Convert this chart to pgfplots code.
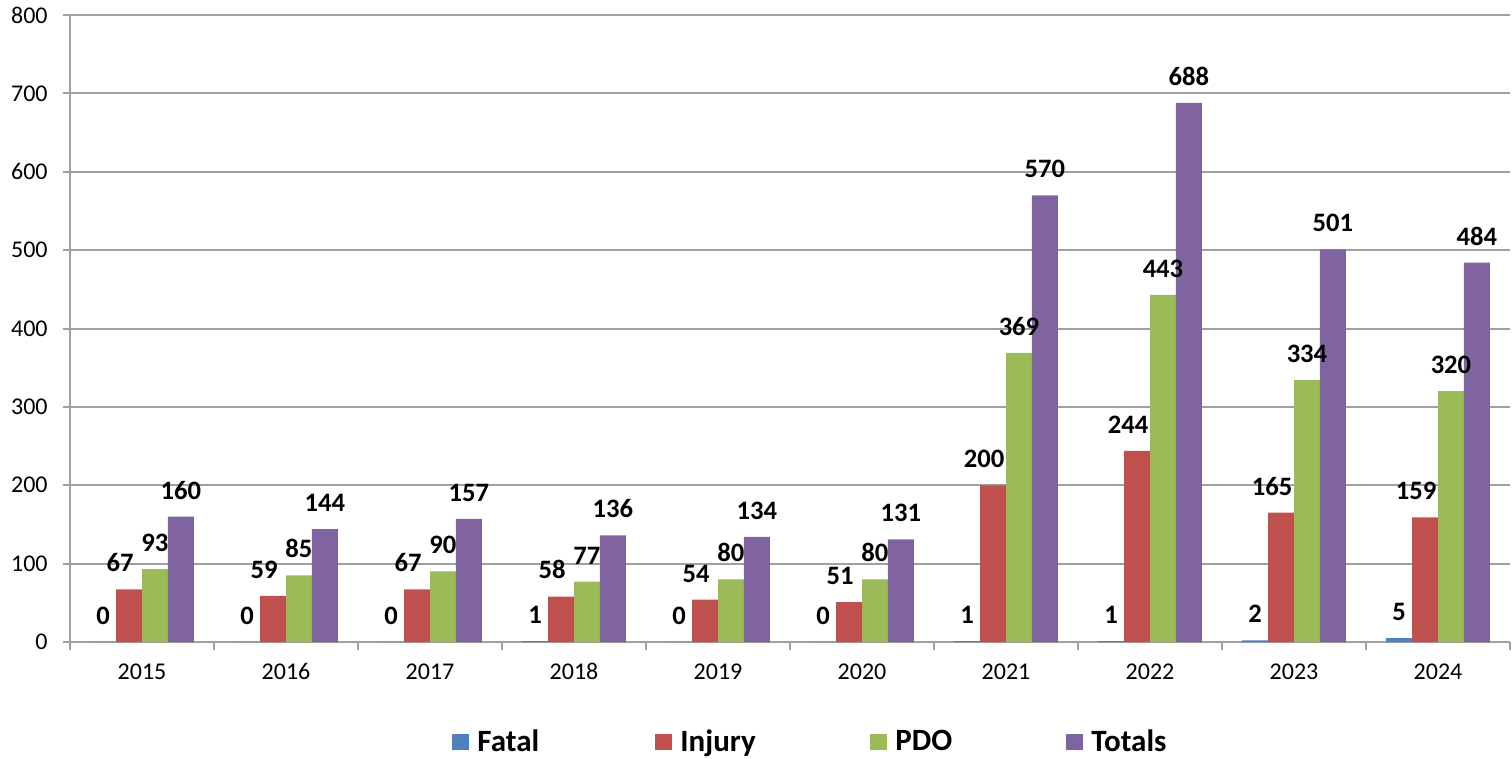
\documentclass[border=0pt]{standalone}
\usepackage{fontspec}
\setmainfont{Carlito}
\usepackage{pgfplots}
\pgfplotsset{compat=1.18}
\definecolor{cFatal}{HTML}{4F81BD}
\definecolor{cInjury}{HTML}{C0504D}
\definecolor{cPDO}{HTML}{9BBB59}
\definecolor{cTotals}{HTML}{8064A2}
\definecolor{gridc}{HTML}{A0A0A0}
\pgfplotsset{/pgf/number format/assume math mode=true}
\begin{document}
\begin{tikzpicture}
\begin{axis}[
  scale only axis,
  width=720bp, height=313.5bp,
  xmin=-0.5, xmax=9.5,
  ymin=0, ymax=800,
  ytick={0,100,...,800},
  xtick={0,...,9},
  xticklabels={2015,2016,2017,2018,2019,2020,2021,2022,2023,2024},
  minor xtick={-0.5,0.5,...,9.5},
  major x tick style={draw=none},
  minor tick length=4bp,
  major tick length=3.5bp,
  tick align=outside,
  tick style={gridc, line width=1bp},
  axis x line*=bottom,
  axis y line*=left,
  axis line style={gridc, line width=1bp, -},
  ymajorgrids,
  grid style={gridc, line width=1bp},
  ticklabel style={font=\fontsize{12bp}{14bp}\selectfont},
  yticklabel style={anchor=east, inner sep=0pt, xshift=-7.5bp},
  xticklabel style={anchor=base, inner sep=0pt, yshift=-15bp},
  ybar=0pt,
  bar width=0.18,
  nodes near coords,
  every node near coord/.append style={font=\bfseries\fontsize{13.3bp}{15bp}\selectfont, anchor=base, yshift=8.8bp, inner sep=0pt, black},
  legend image code/.code={\fill[#1] (0bp,-4bp) rectangle (8.5bp,4bp);},
  legend columns=4,
  legend style={draw=none, at={(0.2653,-0.1595)}, anchor=west, inner sep=0pt,
    font=\bfseries\fontsize{15.5bp}{17bp}\selectfont,
    /tikz/every odd column/.append style={column sep=4bp},
    nodes={inner sep=0pt, anchor=west}},
  legend cell align=left,
]
\addplot[fill=cFatal, draw=none, bar shift=-0.27] coordinates {(0,0) (1,0) (2,0) (3,1) (4,0) (5,0) (6,1) (7,1) (8,2) (9,5)};
\addplot[fill=cInjury, draw=none, bar shift=-0.09, every node near coord/.append style={xshift=-4.5bp}] coordinates {(0,67) (1,59) (2,67) (3,58) (4,54) (5,51) (6,200) (7,244) (8,165) (9,159)};
\addplot[fill=cPDO, draw=none, bar shift=0.09] coordinates {(0,93) (1,85) (2,90) (3,77) (4,80) (5,80) (6,369) (7,443) (8,334) (9,320)};
\addplot[fill=cTotals, draw=none, bar shift=0.27] coordinates {(0,160) (1,144) (2,157) (3,136) (4,134) (5,131) (6,570) (7,688) (8,501) (9,484)};
\legend{\makebox[89bp][l]{Fatal},\makebox[95bp][l]{Injury},\makebox[85.5bp][l]{PDO},Totals}
\end{axis}
\pgfresetboundingbox
\path[use as bounding box] (-35bp,-58.5bp) rectangle (721bp,321bp);
\end{tikzpicture}
\end{document}
